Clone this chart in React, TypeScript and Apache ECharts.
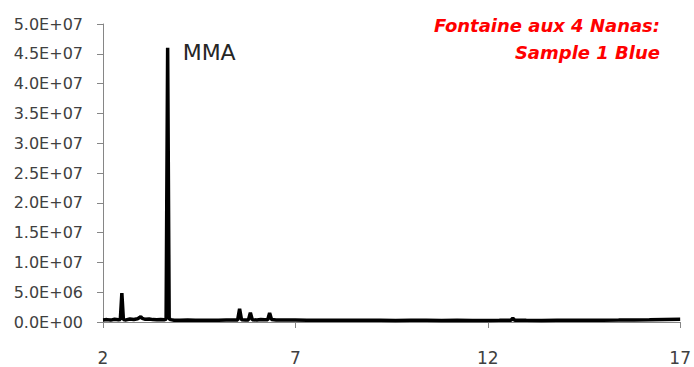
import React, { useEffect, useRef } from "react";
import * as echarts from "echarts";

// Retention time (min) and intensity
const retentionTimes = [
  2.0, 2.1, 2.2, 2.3, 2.4, 2.45, 2.49, 2.53, 2.6, 2.7, 2.8, 2.9, 2.95, 2.98, 3.02, 3.1, 3.2, 3.3, 3.4, 3.5,
  3.6, 3.64, 3.68, 3.72, 3.76, 3.85, 4.0, 4.2, 4.4, 4.6, 4.8, 5.0, 5.2, 5.4, 5.5, 5.55, 5.6, 5.7, 5.78, 5.83,
  5.88, 6.0, 6.1, 6.2, 6.28, 6.33, 6.38, 6.5, 6.7, 7.0, 7.3, 7.6, 8.0, 8.4, 8.8, 9.2, 9.6, 10.0, 10.4, 10.8,
  11.2, 11.6, 12.0, 12.3, 12.6, 12.65, 12.7, 13.0, 13.4, 13.8, 14.2, 14.6, 15.0, 15.4, 15.8, 16.2, 16.6, 17.0,
];
const intensities = [
  3.5e5, 4.0e5, 3.2e5, 4.5e5, 3.8e5, 4.2e5, 4.85e6, 4.0e5, 3.5e5, 5.0e5, 4.2e5, 5.5e5, 7.5e5, 9.0e5, 6.0e5, 4.5e5, 5.0e5, 4.0e5, 3.8e5, 4.2e5,
  3.9e5, 5.0e5, 4.6e7, 5.5e5, 4.0e5, 3.0e5, 2.8e5, 3.2e5, 3.0e5, 2.9e5, 3.1e5, 3.0e5, 3.2e5, 3.3e5, 3.5e5, 2.2e6, 3.6e5, 3.4e5, 3.5e5, 1.55e6,
  3.8e5, 3.5e5, 4.0e5, 3.6e5, 3.8e5, 1.5e6, 4.2e5, 3.5e5, 3.3e5, 3.2e5, 3.0e5, 3.1e5, 2.9e5, 3.0e5, 2.8e5, 3.0e5, 2.7e5, 2.9e5, 2.8e5, 2.7e5,
  2.8e5, 2.6e5, 2.7e5, 2.8e5, 3.0e5, 6.5e5, 3.0e5, 2.8e5, 2.7e5, 2.8e5, 2.9e5, 2.8e5, 3.0e5, 3.2e5, 3.5e5, 3.8e5, 4.2e5, 4.5e5,
];
const peakLabel = { rt: 3.68, text: "MMA" };
const xTicks = [2, 7, 12, 17];
const titleLines = ["Fontaine aux 4 Nanas:", "Sample 1 Blue"];

const FONT = "DejaVu Sans";

function sci(v: number): string {
  if (v === 0) return "0.0E+00";
  const [m, e] = v.toExponential(1).split("e");
  const sign = e[0] === "-" ? "-" : "+";
  const digits = e.replace(/[+-]/, "").padStart(2, "0");
  return `${m}E${sign}${digits}`;
}

export default function App() {
  const ref = useRef<HTMLDivElement>(null);
  useEffect(() => {
    if (!ref.current) return;
    const chart = echarts.init(ref.current, undefined, { renderer: "svg" });
    const data = retentionTimes.map((t, i) => [t, intensities[i]]);
    const peakIdx = retentionTimes.indexOf(peakLabel.rt);
    chart.setOption({
      animation: false,
      backgroundColor: "#ffffff",
      graphic: titleLines.map((line, i) => ({
        type: "text",
        right: 34,
        top: 16 + i * 27,
        style: {
          text: line,
          fill: "#ff0000",
          fontStyle: "italic",
          fontWeight: "bold",
          fontFamily: FONT,
          fontSize: 18,
        },
      })),
      grid: { left: 103, right: 11, top: 24, bottom: 45 },
      xAxis: {
        type: "value",
        min: 2,
        max: 17,
        interval: 5,
        axisLine: { show: true, lineStyle: { color: "#868686", width: 1 } },
        axisTick: { show: true, length: 6, lineStyle: { color: "#868686" } },
        splitLine: { show: false },
        axisLabel: {
          margin: 27,
          fontFamily: FONT,
          fontSize: 17,
          color: "#404040",
          formatter: (v: number) => (xTicks.includes(v) ? String(v) : ""),
        },
      },
      yAxis: {
        type: "value",
        min: 0,
        max: 5e7,
        interval: 5e6,
        axisLine: { show: true, lineStyle: { color: "#868686", width: 1 } },
        axisTick: { show: true, length: 6, lineStyle: { color: "#868686" } },
        splitLine: { show: false },
        axisLabel: {
          margin: 20,
          fontFamily: FONT,
          fontSize: 16,
          color: "#404040",
          formatter: (v: number) => sci(v),
        },
      },
      series: [
        {
          type: "line",
          data,
          symbol: "none",
          lineStyle: { color: "#000000", width: 3.5 },
          z: 3,
          markPoint: {
            symbol: "rect",
            symbolSize: 0,
            data: [
              {
                coord: [peakLabel.rt, intensities[peakIdx]],
                label: {
                  show: true,
                  formatter: peakLabel.text,
                  position: "right",
                  offset: [10, 5],
                  fontFamily: FONT,
                  fontSize: 22,
                  color: "#262626",
                },
              },
            ],
          },
        },
      ],
    });
    return () => chart.dispose();
  }, []);
  return (
    <div
      ref={ref}
      style={{ position: "fixed", left: 0, top: 0, width: 694, height: 367, background: "#fff" }}
    />
  );
}
